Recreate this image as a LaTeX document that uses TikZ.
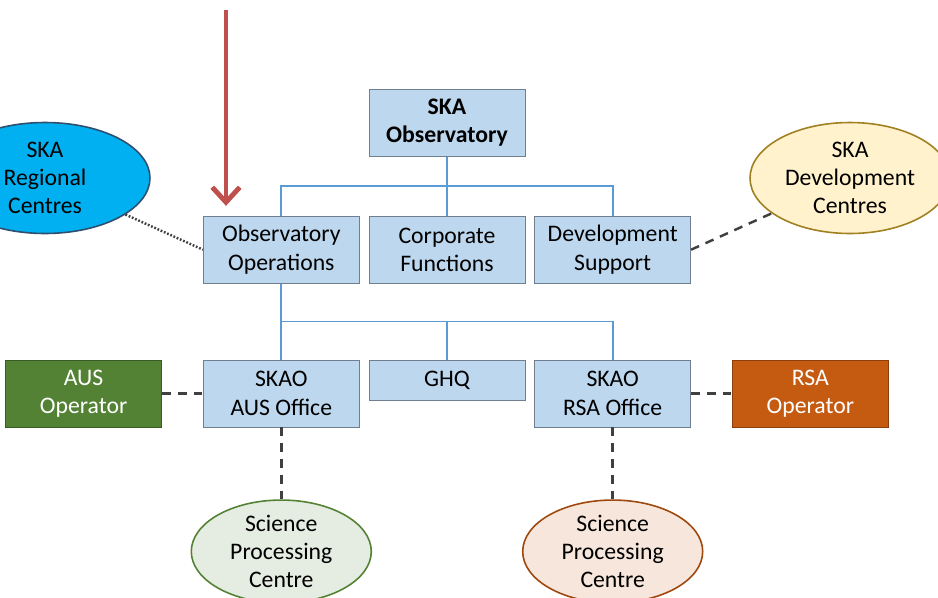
\documentclass[tikz,border=0pt]{standalone}
\usepackage{fontspec}
\setmainfont{Carlito}
\usepackage{xcolor}
\usetikzlibrary{shapes.geometric, arrows.meta, positioning}

\definecolor{boxblue}{HTML}{BDD7EE}
\definecolor{boxline}{HTML}{6F7F8F}
\definecolor{treeblue}{HTML}{5B9BD5}
\definecolor{linkgray}{HTML}{404040}
\definecolor{arrowred}{HTML}{C0504D}
\definecolor{ausgreen}{HTML}{548235}
\definecolor{rsaorange}{HTML}{C55A11}
\definecolor{regblue}{HTML}{00B0F0}
\definecolor{regline}{HTML}{2F4F6F}
\definecolor{devcream}{HTML}{FFF2CC}
\definecolor{devline}{HTML}{A08020}

\begin{document}
\begin{tikzpicture}[
  box/.style={rectangle, draw=boxline, fill=boxblue, align=center,
              minimum height=1.34cm, minimum width=3.12cm,
              font=\fontsize{13.5}{16}\selectfont, inner sep=2pt},
  opbox/.style={box, text=white},
  centre/.style={ellipse, align=center, inner sep=0pt, line width=0.9pt,
              font=\fontsize{13.5}{16}\selectfont},
  tree/.style={draw=treeblue, line width=1pt},
  dashlink/.style={draw=linkgray, line width=1.4pt, dash pattern=on 5pt off 4pt},
  dotlink/.style={draw=linkgray, line width=1.4pt, dash pattern=on 1pt off 1pt},
  redarr/.style={-{Straight Barb[length=0.3cm, width=0.55cm]}, line width=2.8pt, draw=arrowred}
]
\clip (0,0) rectangle (18.76,-11.94);

% top of the tree
\node[box] (obs) at (8.94,-2.46) {\textbf{SKA}\\\textbf{Observatory}};
\node[box, below=1.18cm of obs]  (corp) {Corporate\\Functions};
\node[box, left=0.18cm of corp]  (ops)  {Observatory\\Operations};
\node[box, right=0.18cm of corp] (dev)  {Development\\Support};

\path (obs.south) -- (corp.north) coordinate[midway] (j1);
\draw[tree] (obs) -- (corp);
\draw[tree] (ops.north) |- (j1) -| (dev.north);

% offices
\node[box, below=1.52cm of ops]  (ausoff) {SKAO\\AUS Office};
\node[box, below=1.52cm of corp, minimum height=0.8cm] (ghq) {GHQ};
\node[box, below=1.52cm of dev]  (rsaoff) {SKAO\\RSA Office};

\path (ops.south) -- (ausoff.north) coordinate[midway] (j2);
\draw[tree] (ops) -- (ausoff);
\draw[tree] (j2) -| (rsaoff.north);
\draw[tree] (j2 -| ghq.north) -- (ghq.north);

% operators
\node[opbox, fill=ausgreen, draw=ausgreen!70!black, left=0.82cm of ausoff]  (ausop) {AUS\\Operator};
\node[opbox, fill=rsaorange, draw=rsaorange!70!black, right=0.82cm of rsaoff] (rsaop) {RSA\\Operator};

\draw[dashlink] (ausop) -- (ausoff);
\draw[dashlink] (rsaoff) -- (rsaop);

% processing centres
\node[centre, draw=ausgreen, fill=ausgreen!15!white, minimum width=3.6cm, minimum height=2cm,
      below=1.44cm of ausoff] (ausspc) {Science\\Processing\\Centre};
\node[centre, draw=rsaorange!80!black, fill=rsaorange!15!white, minimum width=3.6cm, minimum height=2cm,
      below=1.44cm of rsaoff] (rsaspc) {Science\\Processing\\Centre};

\draw[dashlink] (ausoff) -- (ausspc);
\draw[dashlink] (rsaoff) -- (rsaspc);

% regional and development centres
\node[centre, draw=regline, fill=regblue, minimum width=4.2cm, minimum height=2.22cm]
      (regc) at (0.9,-3.56) {SKA\\Regional\\Centres};
\node[centre, draw=devline, fill=devcream, minimum width=4cm, minimum height=2.22cm]
      (devc) at (17.0,-3.56) {SKA\\Development\\Centres};

\draw[dotlink] (regc) -- (ops.west);
\draw[dashlink] (dev.east) -- (devc);

% pointer
\coordinate (flag) at (4.52,-0.2);
\draw[redarr, shorten >=0.2cm] (flag) -- (flag |- ops.north);

\end{tikzpicture}
\end{document}
